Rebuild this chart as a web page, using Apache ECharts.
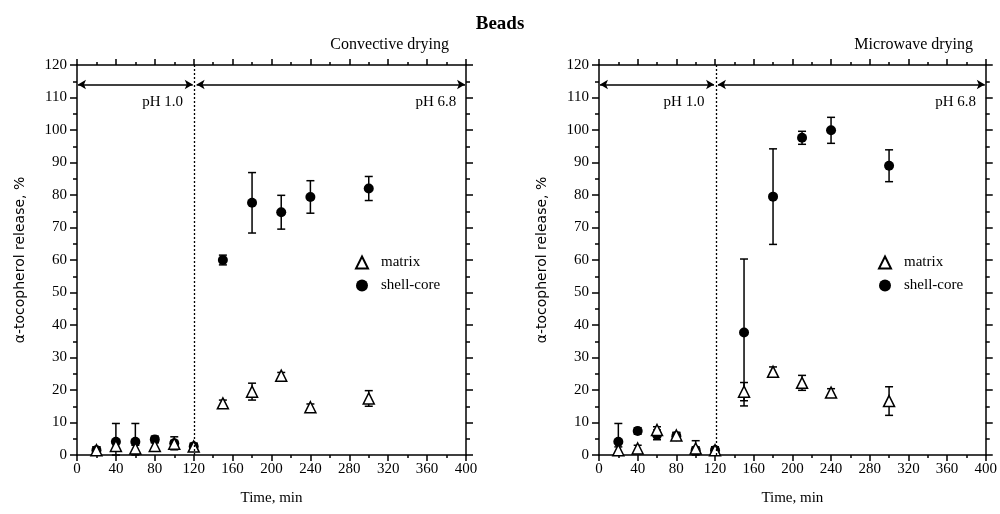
<!DOCTYPE html>
<html>
<head>
<meta charset="utf-8">
<script src="https://cdn.jsdelivr.net/npm/echarts@6/dist/echarts.min.js"></script>
<style>
  html, body { margin: 0; padding: 0; background: #fff; }
  #main { width: 1000px; height: 514px; }
</style>
</head>
<body>
<div id="main"></div>
<script>
// sampling times, min
var times = [20, 40, 60, 80, 100, 120, 150, 180, 210, 240, 300];

// convective drying
var convMatrix = [1.5, 2.8, 2.0, 2.8, 3.5, 2.6, 15.9, 19.5, 24.4, 14.7, 17.4];
var convMatrixErr = [1, 1, 1, 1, 1, 1, 1, 2.6, 1, 1, 2.4];
var convShell = [1.5, 4.1, 4.1, 4.8, 3.6, 2.6, 60.0, 77.6, 74.7, 79.4, 82.0];
var convShellErr = [1, 5.6, 5.6, 1, 2.0, 1, 1.5, 9.3, 5.2, 5.0, 3.7];

// microwave drying
var micMatrix = [1.5, 2.0, 7.7, 6.0, 2.0, 1.5, 19.5, 25.6, 22.2, 19.2, 16.6];
var micMatrixErr = [1, 1, 1, 1, 2.4, 1, 2.8, 1.5, 2.3, 1.2, 4.4];
var micShell = [4.1, 7.4, 6.2, 5.8, 1.5, 1.5, 37.7, 79.5, 97.6, 99.9, 89.0];
var micShellErr = [5.6, 1, 1.5, 1, 1, 1, 22.6, 14.7, 2.0, 4.0, 4.9];

var xTicks = [0, 400, 40];   // min, max, interval
var yTicks = [0, 120, 10];
var phSwitch = 121;
var arrowLevel = 114;
var phLabels = [['pH 1.0', 109, 108.5], ['pH 6.8', 390, 108.5]];

var serif = 'Liberation Serif';
var sans = 'DejaVu Sans';

function pairs(vals) {
    var out = [];
    for (var i = 0; i < times.length; i++) out.push([times[i], vals[i]]);
    return out;
}
function errRows(vals, errs) {
    var out = [];
    for (var i = 0; i < times.length; i++) out.push([times[i], vals[i], errs[i]]);
    return out;
}

function renderErr(params, api) {
    var x = api.value(0), y = api.value(1), e = api.value(2);
    var hi = api.coord([x, y + e]);
    var lo = api.coord([x, Math.max(0, y - e)]);
    var w = 4;
    var st = { stroke: '#000', lineWidth: 1.5 };
    return { type: 'group', children: [
        { type: 'line', shape: { x1: hi[0], y1: hi[1], x2: lo[0], y2: lo[1] }, style: st },
        { type: 'line', shape: { x1: hi[0] - w, y1: hi[1], x2: hi[0] + w, y2: hi[1] }, style: st },
        { type: 'line', shape: { x1: lo[0] - w, y1: lo[1], x2: lo[0] + w, y2: lo[1] }, style: st }
    ]};
}

function xAxisFor(gi, pos, showLabels) {
    return {
        type: 'value', gridIndex: gi, position: pos,
        min: xTicks[0], max: xTicks[1], interval: xTicks[2],
        name: showLabels ? 'Time, min' : '', nameLocation: 'middle', nameGap: 36,
        nameTextStyle: { fontFamily: serif, fontSize: 15, color: '#000' },
        axisLine: { show: true, onZero: false, lineStyle: { color: '#000', width: 1.5 } },
        axisTick: { show: true, inside: false, length: 6, lineStyle: { color: '#000', width: 1.5 } },
        minorTick: { show: true, splitNumber: 2, length: 3, lineStyle: { color: '#000', width: 1.5 } },
        axisLabel: { show: showLabels, fontFamily: serif, fontSize: 15, color: '#000', margin: 7 },
        splitLine: { show: false }
    };
}
function yAxisFor(gi, pos, showLabels) {
    return {
        type: 'value', gridIndex: gi, position: pos,
        min: yTicks[0], max: yTicks[1], interval: yTicks[2],
        name: showLabels ? 'α-tocopherol release, %' : '', nameLocation: 'middle', nameGap: 50,
        nameTextStyle: { fontFamily: sans, fontSize: 14, color: '#000' },
        axisLine: { show: true, onZero: false, lineStyle: { color: '#000', width: 1.5 } },
        axisTick: { show: true, inside: false, length: 7, lineStyle: { color: '#000', width: 1.5 } },
        minorTick: { show: true, splitNumber: 2, length: 4, lineStyle: { color: '#000', width: 1.5 } },
        axisLabel: { show: showLabels, fontFamily: serif, fontSize: 15, color: '#000', margin: 10 },
        splitLine: { show: false }
    };
}

function panelSeries(ax, matrix, matrixErr, shell, shellErr) {
    return [
        {
            type: 'custom', name: 'err-m', xAxisIndex: ax, yAxisIndex: ax, z: 1,
            renderItem: renderErr, data: errRows(matrix, matrixErr), silent: true
        },
        {
            type: 'custom', name: 'err-s', xAxisIndex: ax, yAxisIndex: ax, z: 1,
            renderItem: renderErr, data: errRows(shell, shellErr), silent: true
        },
        {
            type: 'scatter', name: 'matrix', xAxisIndex: ax, yAxisIndex: ax, z: 3,
            symbol: 'triangle', symbolSize: 11,
            itemStyle: { color: '#fff', borderColor: '#000', borderWidth: 1.5, opacity: 1 },
            data: pairs(matrix),
            markLine: {
                silent: true, symbol: ['arrow', 'arrow'], symbolSize: [7, 8],
                label: { show: false },
                lineStyle: { color: '#000', width: 1.5, type: 'solid' },
                data: [
                    [{ coord: [1, arrowLevel] }, { coord: [phSwitch - 2, arrowLevel] }],
                    [{ coord: [phSwitch + 2, arrowLevel] }, { coord: [399, arrowLevel] }],
                    [{ coord: [phSwitch, yTicks[0]], symbol: 'none', lineStyle: { type: [2, 2], width: 1.3 } },
                     { coord: [phSwitch, yTicks[1]], symbol: 'none' }]
                ]
            },
            markPoint: {
                silent: true, symbol: 'circle', symbolSize: 0,
                label: { show: true, position: 'left', distance: 0, color: '#000',
                         fontFamily: serif, fontSize: 15,
                         formatter: function (p) { return p.name; } },
                data: phLabels.map(function (d) { return { name: d[0], coord: [d[1], d[2]] }; })
            }
        },
        {
            type: 'scatter', name: 'shell-core', xAxisIndex: ax, yAxisIndex: ax, z: 2,
            symbol: 'circle', symbolSize: 10,
            itemStyle: { color: '#000', opacity: 1 },
            data: pairs(shell)
        }
    ];
}

function legendAt(left) {
    return {
        left: left, top: 250, orient: 'vertical', itemGap: 8,
        itemWidth: 12, itemHeight: 12, selectedMode: false,
        data: ['matrix', 'shell-core'],
        textStyle: { fontFamily: serif, fontSize: 15, color: '#000', padding: [0, 0, 0, 8] }
    };
}

var chart = echarts.init(document.getElementById('main'), null, { renderer: 'canvas' });
chart.setOption({
    backgroundColor: '#fff',
    animation: false,
    title: [
        { text: 'Beads', left: 'center', top: 10,
          textStyle: { fontFamily: serif, fontSize: 19, fontWeight: 'bold', color: '#000' } },
        { text: 'Convective drying', right: 546, top: 32,
          textStyle: { fontFamily: serif, fontSize: 16, fontWeight: 'normal', color: '#000' } },
        { text: 'Microwave drying', right: 22, top: 32,
          textStyle: { fontFamily: serif, fontSize: 16, fontWeight: 'normal', color: '#000' } }
    ],
    legend: [legendAt(350), legendAt(873)],
    grid: [
        { left: 77, right: 534, top: 65, bottom: 59 },
        { left: 599, right: 11, top: 65, bottom: 59 }
    ],
    xAxis: [
        xAxisFor(0, 'bottom', true), xAxisFor(1, 'bottom', true),
        xAxisFor(0, 'top', false), xAxisFor(1, 'top', false)
    ],
    yAxis: [
        yAxisFor(0, 'left', true), yAxisFor(1, 'left', true),
        yAxisFor(0, 'right', false), yAxisFor(1, 'right', false)
    ],
    series: panelSeries(0, convMatrix, convMatrixErr, convShell, convShellErr)
        .concat(panelSeries(1, micMatrix, micMatrixErr, micShell, micShellErr))
});
</script>
</body>
</html>
